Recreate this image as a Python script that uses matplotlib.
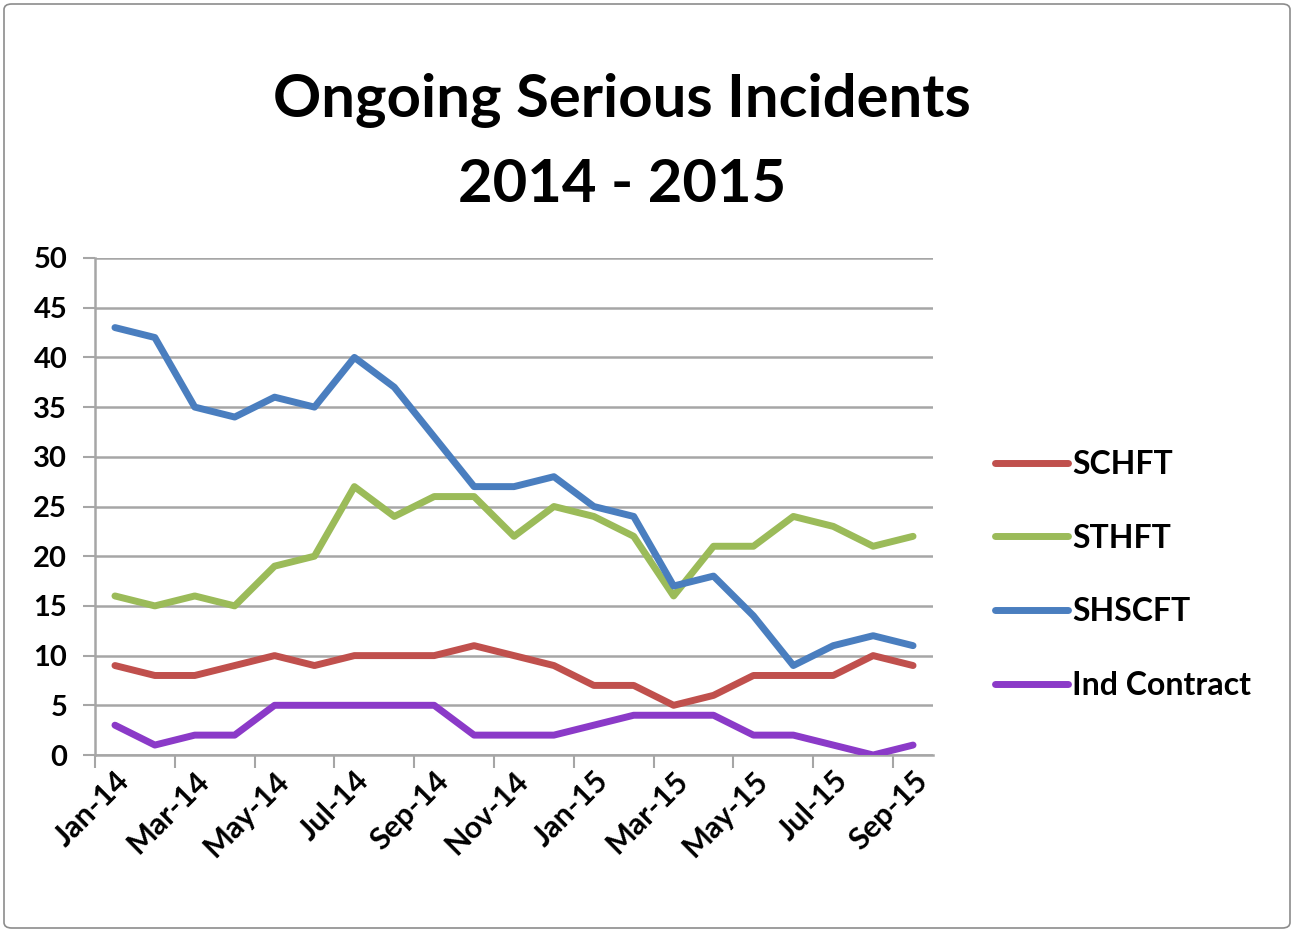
import matplotlib
matplotlib.use("Agg")
import matplotlib.pyplot as plt
from matplotlib.patches import FancyBboxPatch

months = ["Jan-14", "Feb-14", "Mar-14", "Apr-14", "May-14", "Jun-14", "Jul-14",
          "Aug-14", "Sep-14", "Oct-14", "Nov-14", "Dec-14", "Jan-15", "Feb-15",
          "Mar-15", "Apr-15", "May-15", "Jun-15", "Jul-15", "Aug-15", "Sep-15"]
schft = [9, 8, 8, 9, 10, 9, 10, 10, 10, 11, 10, 9, 7, 7, 5, 6, 8, 8, 8, 10, 9]
sthft = [16, 15, 16, 15, 19, 20, 27, 24, 26, 26, 22, 25, 24, 22, 16, 21, 21, 24, 23, 21, 22]
shscft = [43, 42, 35, 34, 36, 35, 40, 37, 32, 27, 27, 28, 25, 24, 17, 18, 14, 9, 11, 12, 11]
ind_contract = [3, 1, 2, 2, 5, 5, 5, 5, 5, 2, 2, 2, 3, 4, 4, 4, 2, 2, 1, 0, 1]
series_names = ["SCHFT", "STHFT", "SHSCFT", "Ind Contract"]
y_ticks = [0, 5, 10, 15, 20, 25, 30, 35, 40, 45, 50]

colors = ["#C0504D", "#9BBB59", "#4A7EBF", "#8B3AC8"]
FONT = "Lato"

W, H = 1294, 932
fig = plt.figure(figsize=(W / 100, H / 100), dpi=100)
fig.patch.set_facecolor("white")

# border
border = FancyBboxPatch((4 / W, 4 / H), 1 - 8 / W, 1 - 8 / H,
                        boxstyle="round,pad=0,rounding_size=0.006",
                        transform=fig.transFigure, fill=False,
                        edgecolor="#8C8C8C", linewidth=1.2)
fig.patches.append(border)

ax = fig.add_axes([95 / W, 1 - 755 / H, (933 - 95) / W, (755 - 258) / H])
x = list(range(len(months)))
for vals, name, c in zip([schft, sthft, shscft, ind_contract], series_names, colors):
    ax.plot(x, vals, color=c, linewidth=5.0, label=name, solid_joinstyle="round",
            solid_capstyle="round", zorder=3)

ax.set_xlim(-0.5, len(months) - 0.5)
ax.set_ylim(0, 50)
ax.set_yticks(y_ticks)
ax.set_yticklabels([str(v) for v in y_ticks], fontsize=21, fontweight="bold",
                   family=FONT, color="black")
ax.yaxis.grid(True, color="#A6A6A6", linewidth=1.8, zorder=0)
ax.set_axisbelow(True)

# tick marks at category boundaries every 2 months, labels at centers
ax.set_xticks([i - 0.5 for i in range(0, len(months), 2)])
ax.set_xticklabels([])
ax.set_xticks(list(range(0, len(months), 2)), minor=True)
ax.set_xticklabels([months[i] for i in range(0, len(months), 2)], minor=True,
                   rotation=45, ha="right", rotation_mode="anchor",
                   fontsize=22, fontweight="bold", family=FONT)
ax.tick_params(axis="x", which="major", length=9, width=1.5, color="#A6A6A6", direction="out")
ax.tick_params(axis="x", which="minor", length=0, pad=8)
ax.tick_params(axis="y", length=9, width=1.5, color="#A6A6A6", pad=11)

for s in ["top", "right"]:
    ax.spines[s].set_visible(False)
ax.spines["left"].set_color("#A6A6A6")
ax.spines["left"].set_linewidth(1.8)
ax.spines["bottom"].set_color("#A6A6A6")
ax.spines["bottom"].set_linewidth(1.8)

fig.text(622 / W, 1 - 100 / H, "Ongoing Serious Incidents", ha="center", va="center",
         fontsize=43, fontweight="bold", family=FONT)
fig.text(622 / W, 1 - 185 / H, "2014 - 2015", ha="center", va="center",
         fontsize=43, fontweight="bold", family=FONT)

leg = ax.legend(loc="center left", bbox_to_anchor=(995 / W, 1 - 575 / H),
                bbox_transform=fig.transFigure, frameon=False,
                prop={"family": FONT, "size": 23, "weight": "bold"},
                handlelength=2.3, handletextpad=0.12, labelspacing=1.4,
                borderpad=0, borderaxespad=0)

fig.savefig("out.png", dpi=100, facecolor="white")
